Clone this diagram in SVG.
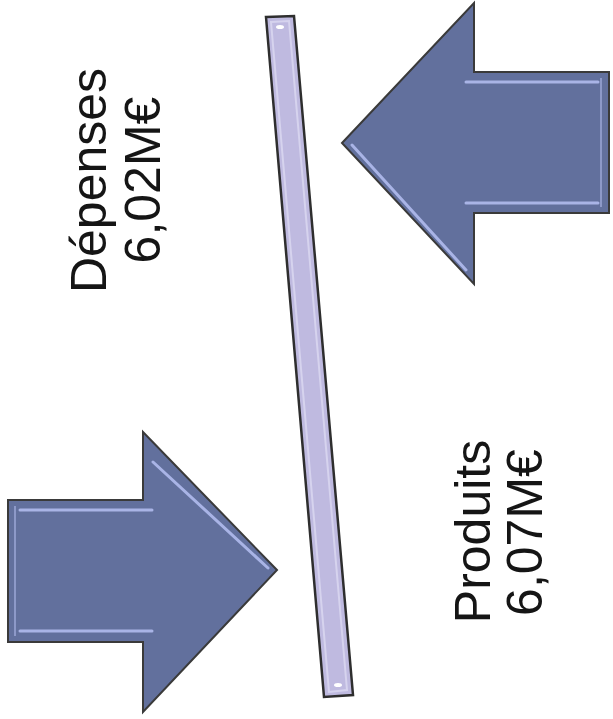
<svg xmlns="http://www.w3.org/2000/svg" width="613" height="719" viewBox="0 0 613 719">
<style>
.arrow{fill:#62709d;stroke:#3a3a3a;stroke-width:2;stroke-linejoin:miter}
.bevel{fill:none;stroke:#a9b4e6;stroke-width:3;stroke-linecap:round}
.bar{fill:#bfbae0;stroke:#2e2e2e;stroke-width:2.5}
.lbl{font-family:"Liberation Sans",Arial,sans-serif;font-size:50px;fill:#151515;text-anchor:middle}
</style>
<rect width="613" height="719" fill="#ffffff"/>
<g id="bar">
<polygon class="bar" points="266,17 294,16 353,695 324,697"/>
<polygon points="271,22 289,21 347,690 329,692" fill="none" stroke="#d6d3ee" stroke-width="2"/>
<ellipse cx="280" cy="27" rx="4" ry="2" fill="#ffffff"/>
<ellipse cx="338" cy="685" rx="4" ry="2" fill="#ffffff"/>
</g>
<g id="arrow-depenses">
<polygon class="arrow" points="342,143 474,3 474,72 609,72 609,213 474,213 474,284"/>
<line class="bevel" x1="466" y1="82" x2="598" y2="82"/>
<line class="bevel" x1="466" y1="203" x2="598" y2="203"/>
<line class="bevel" x1="352" y1="145" x2="466" y2="270"/>
<line x1="601" y1="78" x2="601" y2="207" stroke="#8d99c8" stroke-width="2"/>
</g>
<g id="arrow-produits">
<polygon class="arrow" points="277,570 143,432 143,500 8,500 8,642 143,642 143,712"/>
<line class="bevel" x1="20" y1="510" x2="152" y2="510"/>
<line class="bevel" x1="20" y1="631" x2="152" y2="631"/>
<line class="bevel" x1="153" y1="462" x2="268" y2="568"/>
<line x1="15" y1="506" x2="15" y2="636" stroke="#8d99c8" stroke-width="2"/>
</g>
<g id="label-depenses">
<text class="lbl" transform="translate(106,180.5) rotate(-90)">Dépenses</text>
<text class="lbl" transform="translate(160,180) rotate(-90)">6,02M€</text>
</g>
<g id="label-produits">
<text class="lbl" transform="translate(490,531.5) rotate(-90)">Produits</text>
<text class="lbl" transform="translate(542,532.5) rotate(-90)">6,07M€</text>
</g>
</svg>
